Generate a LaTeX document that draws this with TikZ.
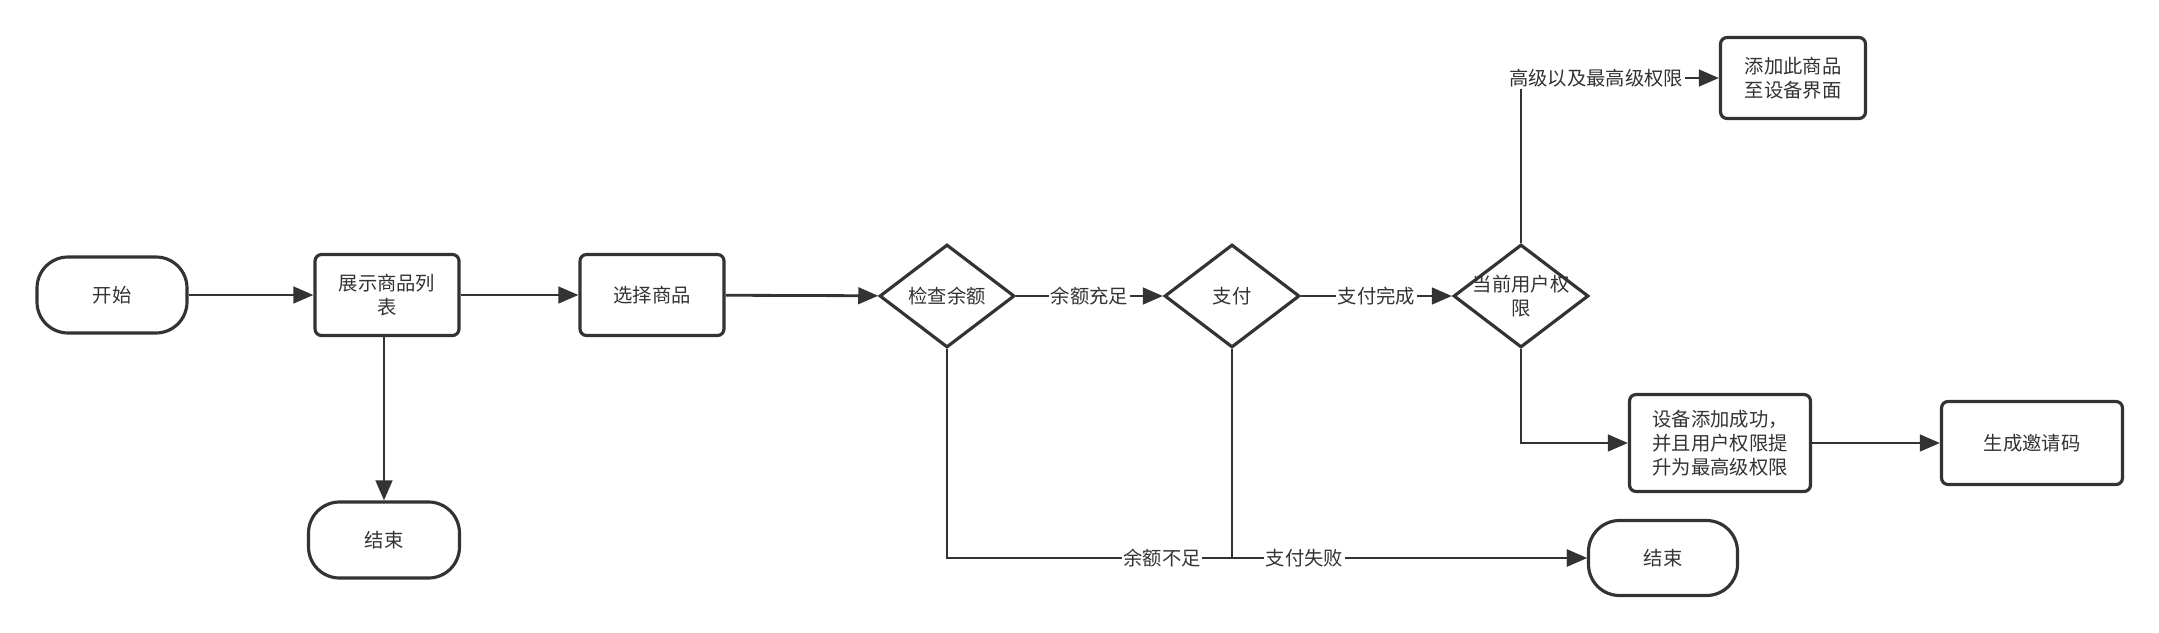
\documentclass[tikz,border=0pt]{standalone}
\usepackage{fontspec}
\setmainfont{Noto Sans CJK SC}
\usetikzlibrary{shapes.geometric,arrows.meta}
\definecolor{ink}{HTML}{333333}
\begin{document}
\begin{tikzpicture}[x=0.02cm,y=-0.02cm,
  font=\fontsize{11pt}{13.7pt}\selectfont,
  every node/.style={text=ink},
  box/.style={draw=ink, line width=1.8pt, rounded corners=0.13cm, align=center, inner sep=0pt},
  term/.style={draw=ink, line width=1.8pt, rounded corners=0.62cm, align=center, inner sep=0pt},
  dia/.style={draw=ink, line width=1.8pt, diamond, inner sep=0pt, minimum width=2.7cm, minimum height=2.06cm},
  conn/.style={draw=ink, line width=1.6pt, -{Triangle[length=0.4cm,width=0.33cm]}},
  lab/.style={fill=white, inner sep=1pt}
]
\useasboundingbox (0,0) rectangle (2159,632);

\node[term, minimum width=3.0cm, minimum height=1.52cm] (start) at (112,295) {开始};
\node[box, minimum width=2.88cm, minimum height=1.62cm] (show) at (387,295) {展示商品列\\表};
\node[box, minimum width=2.88cm, minimum height=1.62cm] (sel) at (652,295) {选择商品};
\node[term, minimum width=3.02cm, minimum height=1.52cm] (end1) at (384,540) {结束};

\node[dia, label={center:检查余额}] (chk) at (947,296) {};
\node[dia, label={center:支付}] (pay) at (1232,296) {};
\node[dia, label={[align=center]center:当前用户权\\限}] (perm) at (1521,296) {};

\node[box, minimum width=2.9cm, minimum height=1.62cm] (add) at (1793,78) {添加此商品\\至设备界面};
\node[box, minimum width=3.62cm, minimum height=1.94cm] (succ) at (1720,443) {设备添加成功，\\并且用户权限提\\升为最高级权限};
\node[box, minimum width=3.62cm, minimum height=1.66cm] (inv) at (2032,443) {生成邀请码};
\node[term, minimum width=2.98cm, minimum height=1.5cm] (end2) at (1663,558) {结束};

\draw[conn] (start) -- (show);
\draw[conn] (show) -- (sel);
\draw[conn] (end1.north |- show.south) -- (end1.north);
\draw[conn] (sel) -- (chk);
\draw[conn] (chk) -- node[lab]{余额充足} (pay);
\draw[conn] (pay) -- node[lab]{支付完成} (perm);
\draw[conn] (perm.north) |- node[lab, pos=0.69]{高级以及最高级权限} (add);
\draw[conn] (perm.south) |- (succ);
\draw[conn] (succ) -- (inv);
\draw[conn] (chk.south) |- node[lab, pos=0.668]{余额不足} (end2);
\draw[conn] (pay.south) |- node[lab, pos=0.602]{支付失败} (end2);
\end{tikzpicture}
\end{document}
